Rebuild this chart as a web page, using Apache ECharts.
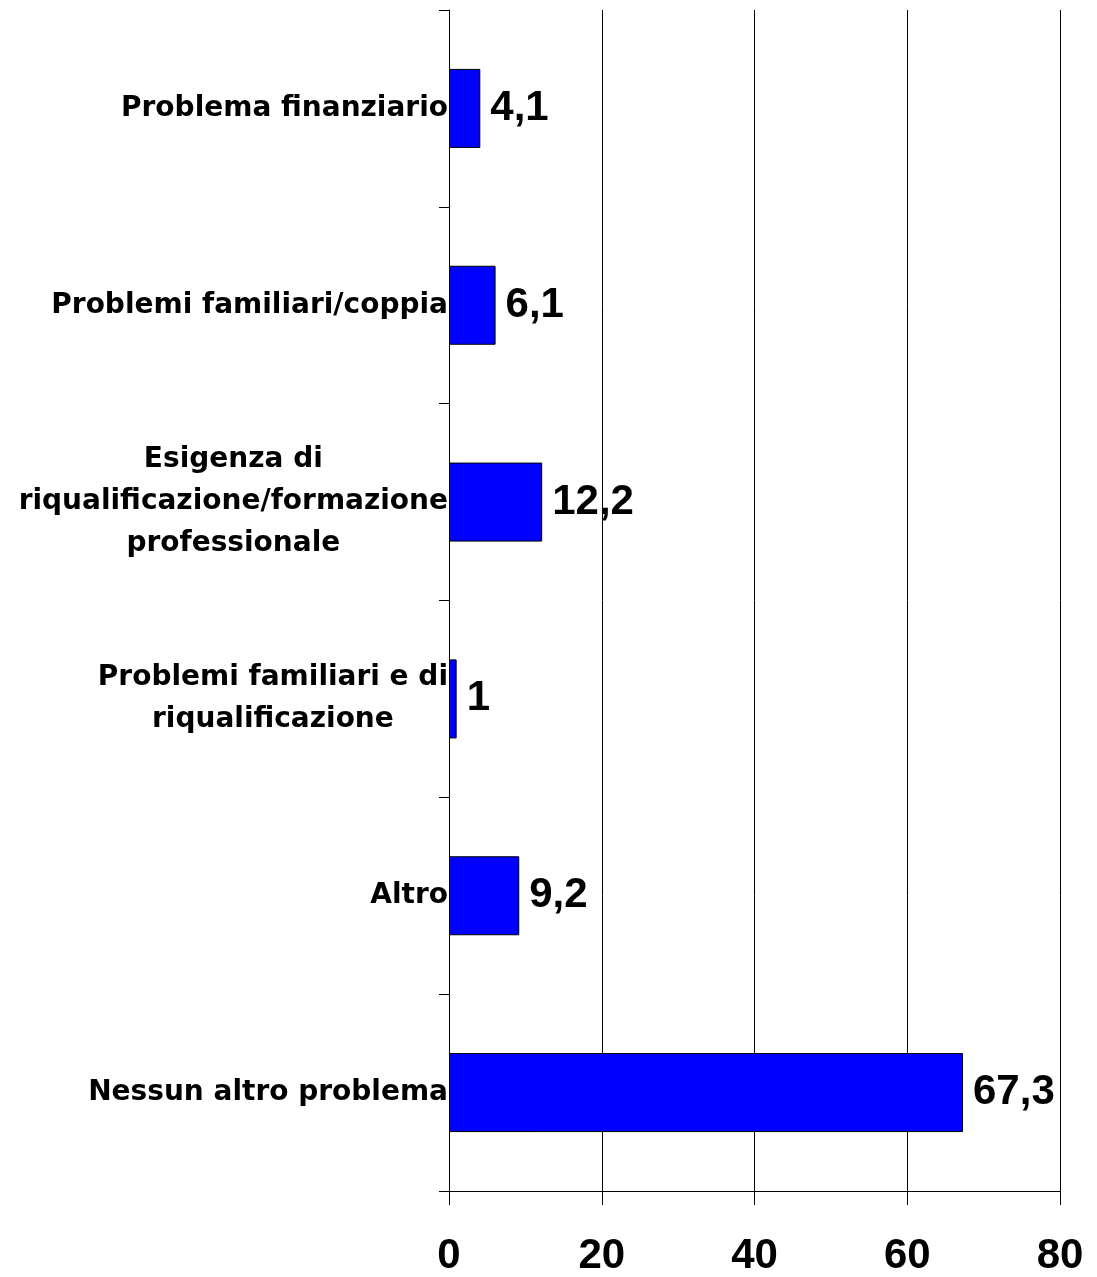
<!DOCTYPE html>
<html>
<head>
<meta charset="utf-8">
<script src="https://cdn.jsdelivr.net/npm/echarts@6/dist/echarts.min.js"></script>
<style>html,body{margin:0;padding:0;background:#fff;}#c{width:1097px;height:1277px;}</style>
</head>
<body>
<div id="c"></div>
<script>
var categories = [
  "Problema finanziario",
  "Problemi familiari/coppia",
  "Esigenza di\nriqualificazione/formazione\nprofessionale",
  "Problemi familiari e di\nriqualificazione",
  "Altro",
  "Nessun altro problema"
];
var values = [4.1, 6.1, 12.2, 1, 9.2, 67.3];
var xTicks = [0, 20, 40, 60, 80];

var numFont = '"Liberation Sans", Arial, sans-serif';
var catFont = '"DejaVu Sans", "Liberation Sans", Arial, sans-serif';
var chart = echarts.init(document.getElementById('c'));
chart.setOption({
  animation: false,
  backgroundColor: '#fff',
  grid: { left: 449, right: 37, top: 10, bottom: 85, containLabel: false },
  xAxis: {
    type: 'value',
    min: xTicks[0], max: xTicks[xTicks.length - 1], interval: 20,
    axisLine: { show: true, lineStyle: { color: '#000', width: 1 } },
    axisTick: { show: true, length: 14, lineStyle: { color: '#000' } },
    splitLine: { show: true, lineStyle: { color: '#000', width: 1 } },
    axisLabel: { margin: 44, fontSize: 42, fontWeight: 'bold', color: '#000', fontFamily: numFont }
  },
  yAxis: {
    type: 'category',
    inverse: true,
    data: categories,
    axisLine: { show: true, lineStyle: { color: '#000', width: 1 } },
    axisTick: { show: true, length: 10, lineStyle: { color: '#000' } },
    axisLabel: {
      margin: 1,
      color: '#000',
      fontSize: 28,
      fontWeight: 'bold',
      fontFamily: catFont,
      lineHeight: 42,
      formatter: function (v) {
        return v.split('\n').map(function (s) { return '{c|' + s + '}'; }).join('\n');
      },
      rich: {
        c: { align: 'center', fontSize: 28, fontWeight: 'bold', color: '#000', lineHeight: 42,
             fontFamily: catFont }
      }
    }
  },
  series: [{
    type: 'bar',
    data: values,
    barWidth: 79,
    itemStyle: { color: '#0000FF', borderColor: '#000', borderWidth: 1 },
    label: {
      show: true,
      position: 'right',
      distance: 10,
      color: '#000',
      fontSize: 42,
      fontWeight: 'bold',
      fontFamily: numFont,
      formatter: function (p) { return String(p.value).replace('.', ','); }
    }
  }]
});
</script>
</body>
</html>
